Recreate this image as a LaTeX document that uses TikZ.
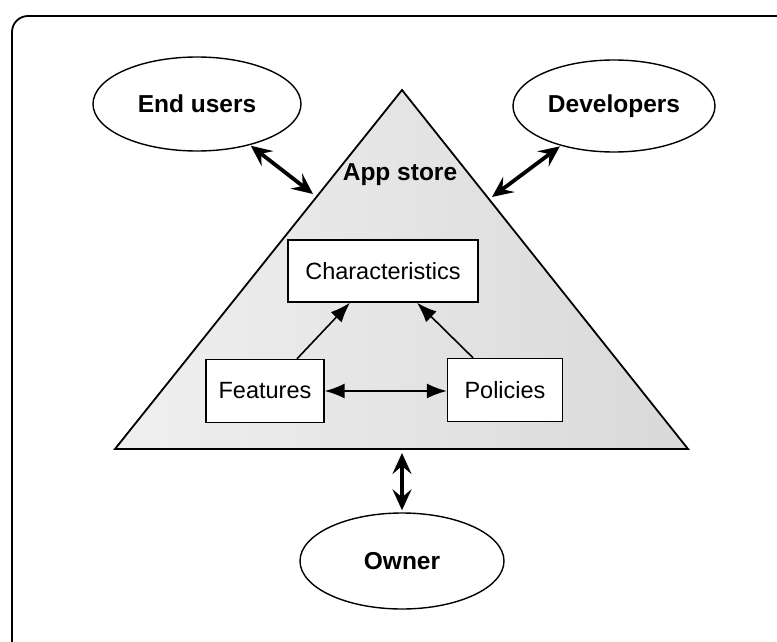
\documentclass[tikz,border=0pt]{standalone}
\usepackage{fontspec}
\setmainfont{Liberation Sans}
\usetikzlibrary{shapes.geometric,arrows.meta}

\tikzset{
  party/.style={ellipse, draw, line width=1.4pt, fill=white, inner sep=0pt,
    font=\fontsize{24.5}{27}\selectfont\bfseries},
  part/.style={rectangle, draw, line width=1.4pt, fill=white, inner sep=0pt,
    font=\fontsize{23.5}{26}\selectfont},
  link/.style={line width=3.8pt, {Stealth[length=21pt,width=19pt,inset=8pt]}-{Stealth[length=21pt,width=19pt,inset=8pt]}},
  flow/.style={line width=1.6pt, -{Latex[length=20pt,width=15pt]}},
  twoway/.style={line width=1.6pt, {Latex[length=20pt,width=15pt]}-{Latex[length=20pt,width=15pt]}},
}

\begin{document}
\begin{tikzpicture}[x=1pt,y=-1pt]
  \useasboundingbox (0,0) rectangle (777,642);
  \fill[white] (0,0) rectangle (777,642);
  \begin{scope}
    \clip (0,0) rectangle (777,642);
    % outer frame
    \draw[line width=1.8pt, rounded corners=16pt] (12,16) rectangle (800,670);
  \end{scope}

  % the app store triangle
  \coordinate (apex) at (402,90);
  \coordinate (bl) at (115,449);
  \coordinate (br) at (688,449);
  \shade[left color=gray!12, right color=gray!30] (apex) -- (br) -- (bl) -- cycle;
  \draw[line width=1.8pt, line join=miter] (apex) -- (br) -- (bl) -- cycle;
  \node[font=\fontsize{24.5}{27}\selectfont\bfseries] (store) at (400,175) {App store};

  % inner parts
  \node[part, minimum width=190pt, minimum height=62pt] (char) at (383,271) {Characteristics};
  \node[part, minimum width=118pt, minimum height=63pt] (feat) at (265,391) {Features};
  \node[part, minimum width=115pt, minimum height=63pt] (pol) at (505,390) {Policies};

  \draw[flow] ([xshift=32pt]feat.north) -- ([xshift=-33pt]char.south);
  \draw[flow] ([xshift=-32pt]pol.north) -- ([xshift=34pt]char.south);
  \draw[twoway] (feat.east) -- (pol.west |- feat.east);

  % parties around the store
  \node[party, minimum width=208pt, minimum height=94pt] (eu) at (197,104) {End users};
  \node[party, minimum width=202pt, minimum height=92pt] (dev) at (614,106) {Developers};
  \node[party, minimum width=204pt, minimum height=96pt] (own) at (402,561) {Owner};

  \coordinate (eutip) at (313,194);
  \coordinate (devtip) at (492,197);
  \coordinate (owntip) at (402,453);

  \draw[link, shorten <=1pt] (eu) -- (eutip);
  \draw[link, shorten >=1pt] (devtip) -- (dev);
  \draw[link, shorten >=2pt] (owntip) -- (own.north);
\end{tikzpicture}
\end{document}
